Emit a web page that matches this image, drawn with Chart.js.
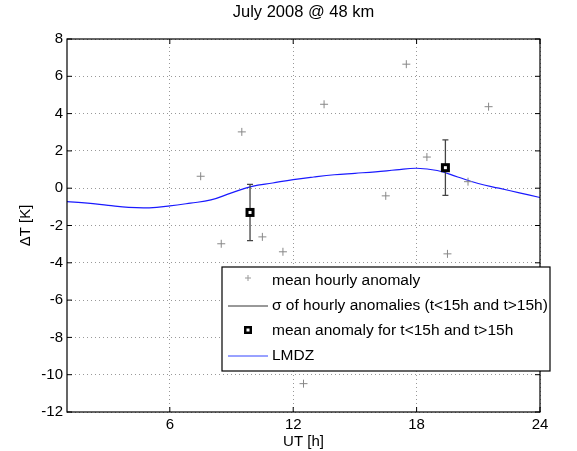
<!DOCTYPE html>
<html><head><meta charset="utf-8">
<script src="https://cdn.jsdelivr.net/npm/chart.js@4"></script>
<style>html,body{margin:0;padding:0;background:#fff}#w{width:577px;height:451px}</style>
</head><body><div id="w"><canvas id="c"></canvas></div>
<script>
const hourX = [7.5,8.5,9.5,10.5,11.5,12.5,13.5,16.5,17.5,18.5,19.5,20.5,21.5];
const hourY = [0.64,-2.98,3.02,-2.61,-3.41,-10.48,4.5,-0.41,6.65,1.67,-3.52,0.35,4.37];
const meanX = [9.9,19.4];
const meanY = [-1.3,1.1];
const meanSigma = [1.51,1.49];
const lmdzX = [1,2,3,4,5,6,7,8,9,10,11,12,13,14,15,16,17,18,19,20,21,22,23,24];
const lmdzY = [-0.72,-0.8,-0.92,-1.03,-1.05,-0.95,-0.8,-0.63,-0.25,0.1,0.28,0.46,0.6,0.72,0.8,0.88,0.98,1.07,0.95,0.6,0.25,0.0,-0.25,-0.5];
const xTicks = [6,12,18,24];
const titleText = 'July 2008 @ 48 km';
const legendLabels = ['mean hourly anomaly','\u03c3 of hourly anomalies (t<15h and t>15h)','mean anomaly for t<15h and t>15h','LMDZ'];
const F = '"Liberation Sans", Arial, sans-serif';

const extras = {
  id:'extras',
  afterDatasetsDraw(ch){
    const c=ch.ctx, xs=ch.scales.x, ys=ch.scales.y, a=ch.chartArea;
    c.save();
    c.strokeStyle='#444'; c.lineWidth=1.3;
    meanX.forEach((x,i)=>{
      const px=xs.getPixelForValue(x), t=ys.getPixelForValue(meanY[i]+meanSigma[i]), b=ys.getPixelForValue(meanY[i]-meanSigma[i]);
      c.beginPath(); c.moveTo(px,t); c.lineTo(px,b);
      c.moveTo(px-3,t); c.lineTo(px+3,t); c.moveTo(px-3,b); c.lineTo(px+3,b); c.stroke();
      const py=ys.getPixelForValue(meanY[i]);
      c.fillStyle='#000'; c.fillRect(px-4.5,py-4.5,9,9);
      c.fillStyle='#fff'; c.fillRect(px-1.5,py-1.5,3,3);
    });
    c.strokeStyle='#000'; c.lineWidth=1.2;
    c.strokeRect(a.left,a.top,a.right-a.left,a.bottom-a.top);
    c.lineWidth=1;
    c.beginPath();
    ys.ticks.forEach(t=>{const py=ys.getPixelForValue(t.value); c.moveTo(a.left,py);c.lineTo(a.left+5,py);c.moveTo(a.right,py);c.lineTo(a.right-5,py);});
    xTicks.forEach(v=>{const px=xs.getPixelForValue(v); c.moveTo(px,a.bottom);c.lineTo(px,a.bottom-5);c.moveTo(px,a.top);c.lineTo(px,a.top+5);});
    c.stroke();
    // title
    c.fillStyle='#000'; c.font='16.5px '+F; c.textAlign='center'; c.textBaseline='middle';
    c.fillText(titleText,(a.left+a.right)/2,12);
    c.textAlign='left';
    const L=222,T=267,W=328,H=104;
    c.fillStyle='#fff'; c.fillRect(L,T,W,H);
    c.strokeStyle='#000'; c.lineWidth=1.2; c.strokeRect(L,T,W,H);
    c.font='15.5px '+F; c.textBaseline='middle'; c.fillStyle='#000';
    const rows=[281,306,331,356];
    legendLabels.forEach((s,i)=>c.fillText(s,272,rows[i]));
    c.strokeStyle='#999'; c.lineWidth=1;
    c.beginPath(); c.moveTo(245,rows[0]-3);c.lineTo(251,rows[0]-3);c.moveTo(248,rows[0]-6);c.lineTo(248,rows[0]);c.stroke();
    c.strokeStyle='#333'; c.beginPath(); c.moveTo(228,rows[1]);c.lineTo(268,rows[1]);c.stroke();
    c.fillStyle='#000'; c.fillRect(244,rows[2]-5,8,8); c.fillStyle='#fff'; c.fillRect(246.5,rows[2]-2.5,3,3);
    c.strokeStyle='#3344ff'; c.beginPath(); c.moveTo(228,rows[3]);c.lineTo(268,rows[3]);c.stroke();
    c.restore();
  }
};

new Chart(document.getElementById('c'),{
  type:'scatter',
  data:{datasets:[
    {data:hourX.map((x,i)=>({x,y:hourY[i]})),pointStyle:'cross',radius:4,borderColor:'#888',borderWidth:1},
    {type:'line',data:lmdzX.map((x,i)=>({x,y:lmdzY[i]})),borderColor:'#1a1aff',borderWidth:1.2,pointRadius:0,tension:0.4,fill:false}
  ]},
  plugins:[extras],
  options:{
    responsive:true,maintainAspectRatio:false,animation:false,
    layout:{padding:{left:0,right:37,top:39,bottom:0}},
    plugins:{legend:{display:false},tooltip:{enabled:false},title:{display:false}},
    scales:{
      x:{type:'linear',min:1,max:24,
        afterBuildTicks:s=>{s.ticks=xTicks.map(v=>({value:v}));},
        afterFit:s=>{s.height=39;},
        grid:{color:'#999',drawTicks:false},border:{display:false,dash:[1,3]},
        ticks:{color:'#000',font:{family:F,size:15},padding:4,maxRotation:0},
        title:{display:true,text:'UT [h]',color:'#000',font:{family:F,size:15},padding:{top:0,bottom:0}}},
      y:{min:-12,max:8,
        afterFit:s=>{s.width=67;},
        grid:{color:'#999',drawTicks:false},border:{display:false,dash:[1,3]},
        ticks:{stepSize:2,color:'#000',font:{family:F,size:15},padding:4},
        title:{display:true,text:'\u0394T [K]',color:'#000',font:{family:F,size:15},padding:{top:17,bottom:0}}}
    }
  }
});
</script></body></html>
